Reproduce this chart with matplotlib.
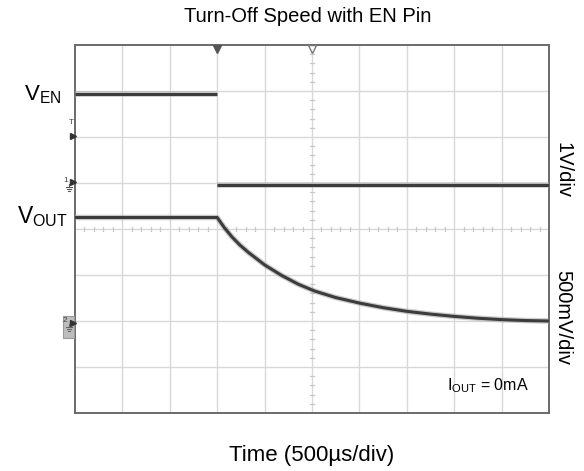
import matplotlib
matplotlib.use("Agg")
import matplotlib.pyplot as plt
from matplotlib.transforms import IdentityTransform
from matplotlib.patches import Rectangle
from matplotlib.lines import Line2D

plt.rcParams['font.family'] = ['Liberation Sans', 'DejaVu Sans']

# Data in screen divisions (x: 0..10 time div, y: 0..8 vertical div)
ven_high_t = [0.0, 3.0]
ven_high_v = [6.93, 6.93]
ven_low_t = [3.0, 10.0]
ven_low_v = [4.96, 4.96]

vout_t = [0.0, 3.0, 3.15, 3.31, 3.48, 3.66, 4.0, 4.36, 4.71, 5.06, 5.5, 6.0, 6.5, 7.0, 7.5, 8.0, 8.5, 9.0, 9.5, 10.0]
vout_v = [4.25, 4.25, 4.03, 3.83, 3.65, 3.49, 3.22, 2.99, 2.80, 2.65, 2.51, 2.39, 2.29, 2.21, 2.15, 2.10, 2.06, 2.03, 2.01, 2.00]

W, H = 584, 471
fig = plt.figure(figsize=(W / 100, H / 100), dpi=100)
ax = fig.add_axes([75 / W, 1 - 413 / H, 474 / W, 368 / H])
ax.set_xlim(0, 10)
ax.set_ylim(0, 8)

# grid
for x in range(1, 10):
    ax.axvline(x, color='#d8d8d8', lw=1.0, zorder=1)
for y in range(1, 8):
    ax.axhline(y, color='#d8d8d8', lw=1.0, zorder=1)
# minor ticks on center lines
for i in range(1, 50):
    if i % 5:
        xm = i * 0.2
        ax.plot([xm, xm], [4 - 0.05, 4 + 0.05], color='#c8c8c8', lw=0.9, zorder=1)
for i in range(1, 40):
    if i % 5:
        ym = i * 0.2
        ax.plot([5 - 0.05, 5 + 0.05], [ym, ym], color='#c8c8c8', lw=0.9, zorder=1)

ax.set_xticks([])
ax.set_yticks([])
for s in ax.spines.values():
    s.set_color('#6a6a6a')
    s.set_linewidth(1.4)

# traces
for t, v in [(ven_high_t, ven_high_v), (ven_low_t, ven_low_v), (vout_t, vout_v)]:
    ax.plot(t, v, color='#aaaaaa', lw=4.0, alpha=0.6, zorder=3, solid_capstyle='butt')
    ax.plot(t, v, color='#3c3c3c', lw=2.2, zorder=4, solid_capstyle='butt')

# top markers
ax.plot([3.0], [8 - 0.08], marker='v', ms=6, color='#555555', clip_on=False, zorder=6)
ax.plot([5.0], [8 - 0.08], marker='v', ms=6, mfc='white', mec='#777777', mew=1.0, clip_on=False, zorder=6)

# ---- left-edge scope markers drawn in pixel coordinates ----
px = IdentityTransform()
def P(x, y):
    return x, H - y

def ground(x, y, color='#555555'):
    segs = [((x, y), (x, y + 3)), ((x - 3, y + 3), (x + 3, y + 3)),
            ((x - 2, y + 5), (x + 2, y + 5)), ((x - 1, y + 7), (x + 1, y + 7))]
    for (a, b) in segs:
        fig.add_artist(Line2D([a[0], b[0]], [H - a[1], H - b[1]], transform=px,
                              color=color, lw=0.8))

def arrow(x, y):
    fig.add_artist(Line2D([x], [H - y], transform=px, marker='>', ms=4.5,
                          color='#333333', lw=0))

# trigger level marker
fig.text(*P(71, 123), 'T', transform=px, fontsize=6, ha='center', va='center', color='#444444')
arrow(72.5, 136)
# channel 1 marker
fig.text(*P(65.5, 180), '1', transform=px, fontsize=6, ha='center', va='center', color='#444444')
arrow(72.5, 182)
ground(68.5, 184)
# channel 2 marker (boxed)
fig.add_artist(Rectangle(P(62.5, 337.5), 11.5, 22, transform=px, fc='#bdbdbd', ec='#9a9a9a', lw=0.8))
fig.text(*P(65, 320), '2', transform=px, fontsize=6, ha='center', va='center', color='#444444')
arrow(72.5, 323)
ground(68.5, 324, color='#666666')

# labels
fig.text(308 / W, 1 - 17 / H, 'Turn-Off Speed with EN Pin', ha='center', va='center', fontsize=14.5)
fig.text(312 / W, 1 - 455 / H, 'Time (500µs/div)', ha='center', va='center', fontsize=16)
fig.text(24 / W, 1 - 95 / H, r'V$_{\mathregular{EN}}$', ha='left', va='center', fontsize=16)
fig.text(17 / W, 1 - 217 / H, r'V$_{\mathregular{OUT}}$', ha='left', va='center', fontsize=16.5)
fig.text(563 / W, 1 - 170 / H, '1V/div', ha='center', va='center', fontsize=14.5, rotation=-90)
fig.text(563 / W, 1 - 318 / H, '500mV/div', ha='center', va='center', fontsize=14.5, rotation=-90)
fig.text(447 / W, 1 - 386 / H, r'I$_{\mathregular{OUT}}$ = 0mA', ha='left', va='center', fontsize=11.5)

fig.savefig('out.png', dpi=100)
